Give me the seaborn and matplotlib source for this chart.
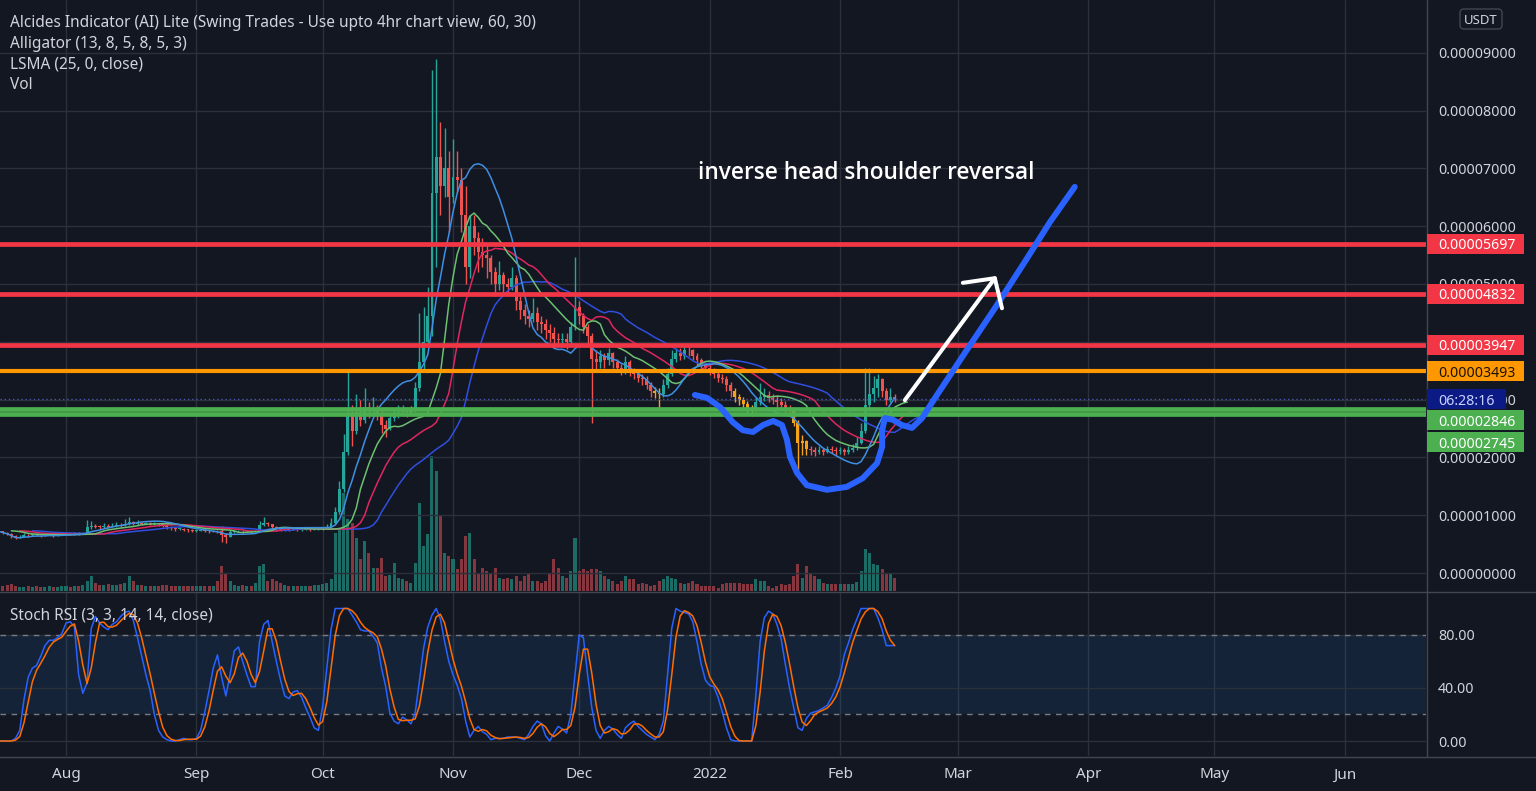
import numpy as np
import pandas as pd
import matplotlib
matplotlib.use("Agg")
import matplotlib.pyplot as plt
import matplotlib.dates as mdates
from matplotlib.patches import Rectangle, FancyBboxPatch
from matplotlib.lines import Line2D
from matplotlib.transforms import IdentityTransform
import seaborn as sns

# ---------------- data (prices in 1e-6 USDT, daily candles) ----------------
start_date = "2021-07-16"
first_open = 7.4
close = [
    7.2, 7.0, 6.8, 6.4, 6.1, 6.3, 6.6, 6.5, 6.7, 6.6, 6.5, 6.6, 6.7, 6.5, 6.6, 6.7,
    6.8, 6.7, 6.9, 6.8, 6.9, 7.9, 8.2, 8.0, 7.9, 8.1, 8.0, 8.1, 8.3, 8.2, 8.4, 8.8,
    8.5, 8.6, 8.5, 8.6, 8.5, 8.5, 8.4, 8.3, 7.9, 7.8, 7.6, 7.7, 7.5, 7.4, 7.3,
    7.3, 7.4, 7.3, 7.2, 7.3, 7.2, 6.6, 6.3, 7.1, 7.2, 7.3, 7.2, 7.3, 7.2, 7.3, 8.3,
    8.6, 8.4, 8.0, 7.6, 7.5, 7.6, 7.5, 7.6, 7.5, 7.5, 7.6, 7.5, 7.6, 7.6,
    7.7, 8.0, 8.6, 10.5, 14.5, 21.0, 27.5, 24.5, 27.8, 26.5, 28.8, 28.0, 28.5, 27.2,
    25.6, 25.0, 26.8, 27.5, 27.9, 28.2, 27.8, 28.0, 32.0, 36.5, 40.0, 44.5, 65.7,
    72.0, 67.0, 70.0, 65.0,
    68.5, 68.0, 62.0, 53.0, 60.0, 58.0, 55.5, 55.0, 54.5, 52.0, 50.0, 51.5, 50.0,
    49.5, 51.0, 47.0, 45.5, 44.5, 44.0, 45.0, 43.5, 43.0, 42.0, 41.5, 40.5, 40.3,
    40.5, 40.0, 42.5, 46.0,
    44.5, 42.5, 41.0, 37.0, 36.5, 37.5, 36.8, 38.0, 36.5, 35.5, 35.0, 36.5, 35.0,
    34.5, 33.8, 33.5, 32.5, 31.5, 31.2, 31.0, 32.5, 34.5, 37.0, 38.0, 37.5, 38.6,
    38.5, 37.5, 36.8, 36.0, 35.5,
    35.0, 34.5, 33.8, 33.5, 32.5, 31.5, 30.5, 30.0, 29.3, 28.5, 28.0, 29.5, 30.5,
    30.8, 30.2, 30.0, 29.5, 29.0, 28.5, 28.0, 26.0, 22.5, 22.8, 21.5, 21.2, 21.0,
    21.3, 21.0, 21.4, 21.3, 21.1,
    21.2, 21.0, 21.3, 21.6, 22.5, 24.5, 29.0, 31.0, 32.0, 33.5, 31.5, 30.0, 30.5, 30.1,
]
high = [
    7.6, 7.3, 7.1, 6.9, 6.5, 6.6, 6.9, 6.8, 6.9, 6.9, 6.8, 6.8, 6.9, 6.8, 6.8, 6.9,
    7.0, 7.0, 7.1, 7.1, 7.1, 9.2, 9.0, 8.5, 8.3, 8.6, 8.4, 8.6, 8.8, 8.7, 9.3, 9.7,
    9.0, 9.2, 8.9, 8.9, 8.8, 8.8, 8.7, 8.6, 8.4, 8.1, 7.9, 8.0, 7.8, 7.7, 7.6,
    7.6, 7.6, 7.6, 7.5, 7.5, 7.5, 8.2, 7.0, 7.4, 7.5, 7.5, 7.5, 7.5, 7.5, 7.5, 9.0,
    9.7, 8.9, 8.5, 8.1, 7.9, 7.8, 7.8, 7.8, 7.7, 7.7, 7.8, 7.7, 7.8, 7.8,
    8.0, 8.4, 9.5, 11.5, 16.0, 24.0, 35.0, 29.0, 31.0, 30.0, 32.0, 29.5, 30.5, 29.0,
    28.0, 26.5, 27.5, 28.5, 29.0, 29.0, 28.8, 28.9, 33.0, 45.0, 46.0, 49.5, 87.0,
    89.0, 78.0, 77.0, 73.0,
    75.0, 73.0, 70.0, 67.0, 62.0, 62.0, 59.0, 58.0, 57.0, 55.0, 53.0, 54.0, 52.0,
    51.0, 53.0, 51.5, 48.0, 46.5, 45.5, 47.5, 46.0, 44.5, 44.0, 43.0, 42.5, 41.5,
    41.5, 41.5, 43.5, 54.7,
    47.0, 45.0, 43.0, 41.5, 38.5, 38.5, 38.0, 39.0, 38.3, 37.0, 36.2, 37.5, 36.8,
    35.5, 35.0, 34.5, 34.0, 33.0, 32.2, 32.0, 33.5, 35.5, 38.5, 39.0, 39.0, 39.3,
    39.3, 38.8, 38.0, 37.2, 36.5,
    36.0, 35.5, 35.0, 34.5, 34.0, 33.0, 32.0, 31.0, 30.5, 29.8, 29.0, 30.5, 32.9,
    32.0, 31.5, 31.0, 30.8, 30.3, 29.8, 29.0, 28.3, 26.5, 23.8, 23.0, 22.0, 21.8,
    21.9, 21.7, 22.0, 21.9, 21.8,
    21.8, 21.7, 21.9, 22.3, 23.5, 26.0, 35.5, 35.5, 34.0, 34.5, 33.8, 32.0, 32.0, 31.0,
]
low = [
    7.0, 6.8, 6.6, 6.1, 5.9, 6.0, 6.2, 6.3, 6.4, 6.4, 6.3, 6.4, 6.5, 6.3, 6.4, 6.5,
    6.5, 6.5, 6.6, 6.6, 6.7, 6.8, 7.7, 7.8, 7.7, 7.8, 7.8, 7.9, 8.0, 8.0, 8.1, 8.3,
    8.3, 8.3, 8.3, 8.4, 8.3, 8.3, 8.2, 8.0, 7.6, 7.5, 7.3, 7.4, 7.2, 7.1, 7.1,
    7.1, 7.2, 7.1, 7.0, 7.1, 7.0, 5.4, 5.2, 6.2, 7.0, 7.1, 7.0, 7.1, 7.0, 7.1, 7.2,
    8.1, 8.1, 7.7, 7.3, 7.2, 7.3, 7.3, 7.4, 7.3, 7.3, 7.4, 7.3, 7.4, 7.4,
    7.5, 7.6, 7.9, 8.5, 10.2, 14.0, 20.5, 22.0, 24.0, 25.5, 26.0, 26.8, 27.2, 26.5,
    24.3, 23.5, 24.8, 26.3, 26.8, 27.2, 27.0, 27.2, 27.8, 31.5, 35.0, 39.5, 41.0,
    53.0, 62.0, 65.0, 59.0,
    64.0, 66.0, 59.0, 50.0, 51.0, 55.0, 52.0, 53.0, 51.0, 50.0, 48.0, 49.0, 48.5,
    48.0, 49.0, 45.5, 44.0, 43.0, 42.5, 43.5, 42.0, 41.5, 40.5, 40.0, 39.0, 39.5,
    39.3, 38.8, 39.5, 42.0,
    43.0, 41.5, 39.5, 26.0, 35.0, 35.5, 35.5, 36.0, 35.5, 34.8, 34.2, 34.5, 34.0,
    33.5, 33.0, 32.5, 31.8, 30.5, 30.3, 28.5, 30.5, 32.0, 34.0, 36.5, 36.8, 37.0,
    37.5, 36.8, 36.0, 35.2, 34.8,
    34.2, 33.8, 33.0, 32.8, 31.5, 30.5, 29.5, 29.0, 28.3, 27.5, 27.2, 27.8, 29.0,
    29.8, 29.5, 29.3, 28.8, 28.3, 27.6, 27.2, 25.5, 17.3, 20.5, 20.5, 20.5, 20.3,
    20.6, 20.4, 20.7, 20.7, 20.5,
    20.6, 20.4, 20.6, 20.9, 21.3, 22.3, 24.3, 28.0, 29.5, 30.5, 30.5, 29.0, 29.5, 29.6,
]
volume = [  # relative volume
    5, 5, 6, 7, 5, 4, 4, 5, 4, 5, 4, 4, 5, 4, 4, 5,
    5, 4, 5, 5, 6, 10, 15, 8, 6, 6, 7, 6, 6, 7, 8, 15, 10, 6, 6, 5, 5, 5, 5, 6, 6,
    5, 5, 5, 5, 5, 5,
    5, 5, 5, 5, 5, 10, 25, 17, 10, 6, 5, 6, 5, 5, 8, 25, 27, 10, 12, 10, 8, 6, 5, 5,
    5, 5, 5, 5, 6, 6,
    7, 8, 12, 58, 62, 98, 72, 68, 53, 32, 50, 38, 23, 23, 33, 15, 16, 28, 13, 12, 10,
    8, 28, 88, 45, 57, 135, 120, 75, 38, 35,
    32, 22, 32, 55, 58, 32, 17, 23, 20, 18, 23, 13, 12, 13, 12, 15, 10, 15, 17, 10,
    10, 8, 10, 18, 32, 23, 15, 13, 20, 53,
    20, 22, 20, 22, 22, 20, 15, 12, 10, 7, 10, 15, 12, 12, 7, 8, 7, 5, 6, 10, 12, 15,
    13, 12, 8, 7, 8, 10, 7, 5, 5,
    5, 5, 3, 7, 8, 8, 8, 8, 7, 7, 7, 12, 10, 10, 5, 3, 5, 7, 6, 7, 15, 27, 13, 25,
    17, 15, 12, 8, 7, 7, 7,
    7, 7, 7, 7, 9, 20, 42, 38, 27, 26, 22, 18, 17, 13,
]
stoch_k = [
    0, 0, 0, 0, 2, 8, 31, 48, 55, 57, 64, 72, 76, 76, 78, 81,
    89, 90, 86, 50, 36, 44, 85, 94, 89, 86, 84, 88, 90, 94, 97, 98, 91, 78, 64, 50,
    38, 20, 8, 3, 1, 0, 0, 1, 2, 1, 1,
    2, 8, 22, 38, 55, 65, 48, 34, 50, 68, 71, 60, 50, 41, 41, 75, 88, 91, 75, 60,
    46, 34, 32, 37, 38, 33, 25, 18, 10, 8,
    26, 55, 84, 100, 100, 100, 100, 95, 90, 84, 83, 83, 79, 74, 55, 41, 21, 15, 13,
    18, 16, 13, 21, 45, 70, 86, 95, 100, 92, 75, 60,
    50, 42, 32, 15, 3, 8, 11, 7, 5, 1, 2, 2, 2, 3, 3, 3, 2, 1, 5, 11, 15, 13, 4, 0,
    6, 11, 9, 6, 20, 50,
    80, 78, 50, 25, 8, 2, 8, 11, 9, 5, 2, 10, 13, 15, 11, 8, 5, 3, 1, 5, 15, 50, 85,
    100, 98, 97, 96, 90, 75, 58, 46,
    42, 41, 33, 22, 10, 1, 0, 0, 0, 0, 0, 35, 75, 93, 98, 96, 88, 77, 58, 40, 25,
    10, 8, 17, 21, 22, 23, 25, 27, 33, 40,
    49, 65, 74, 84, 92, 100, 100, 100, 100, 93, 84, 72, 72, 72,
]
alert_days = ["2021-10-22", "2021-12-19", "2021-12-20", "2022-01-07", "2022-01-08",
              "2022-01-09", "2022-01-10", "2022-01-11", "2022-01-21", "2022-01-22",
              "2022-01-23", "2022-01-24"]

level_red = [56.97, 48.32, 39.47]
level_orange = [34.93]
level_green = [28.46, 27.45]
price_ticks = [0, 10, 20, 30, 40, 50, 60, 70, 80, 90]
hidden_ticks = [40]  # fully covered by a level label in the reference
stoch_ticks = [0, 40, 80]
stoch_band = [20, 80]
month_starts = ["2021-08-01", "2021-09-01", "2021-10-01", "2021-11-01", "2021-12-01",
                "2022-01-01", "2022-02-01", "2022-03-01", "2022-04-01", "2022-05-01",
                "2022-06-01"]
month_labels = ["Aug", "Sep", "Oct", "Nov", "Dec", "2022", "Feb", "Mar", "Apr", "May", "Jun"]
countdown = "06:28:16"
legend_lines = ["Alcides Indicator (AI) Lite (Swing Trades - Use upto 4hr chart view, 60, 30)",
                "Alligator (13, 8, 5, 8, 5, 3)", "LSMA (25, 0, close)", "Vol"]
stoch_title = "Stoch RSI (3, 3, 14, 14, close)"
note_text = "inverse head shoulder reversal"
note_anchor = (166.2, 69.2)  # (days after start, price)

# hand-drawn annotation (days after start, price)
curve_day = [165.5, 168.4, 171.5, 174.5, 176.9, 179.3, 181.7, 184.1, 186.2, 187.4, 188.1,
             189.8, 192.1, 196.9, 201.6, 205.4, 208.8, 210.0, 210.0, 210.7, 212.6, 214.7,
             217.1, 219.5, 222.6, 229.7, 236.8, 243.9, 249.9, 255.8]
curve_price = [30.8, 30.3, 28.7, 26.1, 24.7, 24.4, 25.6, 26.3, 25.6, 23.0, 20.1, 17.3,
               15.2, 14.4, 14.9, 16.4, 19.0, 21.8, 24.7, 26.8, 26.5, 25.6, 25.1, 26.8,
               30.3, 38.1, 45.8, 53.8, 60.7, 66.8]
arrow_day = [215.4, 236.8]
arrow_price = [29.9, 51.0]
head_day = [229.2, 236.8, 238.5]
head_price = [50.2, 51.0, 45.8]

# ---------------- style ----------------
BG = "#131722"
GRID = "#2c303b"
TXT = "#d1d4dc"
UP, DOWN, ALERT = "#26a69a", "#ef5350", "#f7a21b"
W, H = 1536, 791

sns.set_theme(style="dark", rc={"axes.facecolor": BG, "figure.facecolor": BG,
                                "patch.edgecolor": "none", "patch.linewidth": 0})
plt.rcParams["font.family"] = ["Noto Sans", "DejaVu Sans"]

close = np.array(close, float)
high = np.array(high, float)
low = np.array(low, float)
volume = np.array(volume, float)
n = len(close)
d0 = mdates.date2num(pd.Timestamp(start_date))
x = d0 + np.arange(n)
opn = np.concatenate([[first_open], close[:-1]])
up = close >= opn
alert = np.isin(pd.date_range(start_date, periods=n).strftime("%Y-%m-%d"), alert_days)

# indicators from the price data
hl2 = (high + low) / 2


def smma(src, length):
    out = np.empty_like(src)
    out[0] = src[0]
    for t in range(1, len(src)):
        out[t] = (out[t - 1] * (length - 1) + src[t]) / length
    return out


def lsma(src, length):
    out = np.empty_like(src)
    for t in range(len(src)):
        w = src[max(0, t - length + 1):t + 1]
        if len(w) < 2:
            out[t] = w[-1]
            continue
        b, a = np.polyfit(np.arange(len(w)), w, 1)
        out[t] = a + b * (len(w) - 1)
    return out


jaw = smma(hl2, 13)
teeth = smma(hl2, 8)
lips = smma(hl2, 5)
ls = lsma(close, 25)
stoch_d = pd.Series(stoch_k, dtype=float).rolling(3, min_periods=1).mean().values

fig = plt.figure(figsize=(W / 100, H / 100), dpi=100)
fig.patch.set_facecolor(BG)
rect_main = [0, 1 - 591 / H, 1426 / W, 591 / H]
axv = fig.add_axes(rect_main)
ax = fig.add_axes(rect_main, sharex=axv)
axs = fig.add_axes([0, 1 - 756 / H, 1426 / W, 164 / H])
ax.patch.set_alpha(0)
axv.set_facecolor(BG)
axs.set_facecolor(BG)
for a in (axv, ax, axs):
    for s in a.spines.values():
        s.set_visible(False)
    a.grid(False)

xlim = (d0 + 0.309, d0 + 339.3)
ax.set_xlim(*xlim)
axs.set_xlim(*xlim)
ax.set_ylim(-3.11, 99.13)
axv.set_ylim(0, 591)
axs.set_ylim(-11.32, 112.45)

# grids
months = [mdates.date2num(pd.Timestamp(m)) for m in month_starts]
for m in months:
    axv.axvline(m, color=GRID, lw=1, zorder=0)
    axs.axvline(m, color=GRID, lw=1, zorder=0)
for p in price_ticks:
    ax.axhline(p, color=GRID, lw=1, zorder=0)

# volume
axv.bar(x, volume, width=0.72, color=np.where(up, "#1d6b65", "#86363e"),
        edgecolor="none", linewidth=0, zorder=1)

# candles
ccol = np.where(alert, ALERT, np.where(up, UP, DOWN))
ax.vlines(x, low, high, colors=ccol, lw=1, zorder=3)
body = np.maximum(np.abs(close - opn), 0.15)
ax.bar(x, body, bottom=np.minimum(close, opn), width=0.7, color=ccol,
       edgecolor="none", linewidth=0, zorder=4)

# indicator lines
line_kw = dict(estimator=None, legend=False, linewidth=1.1, zorder=5)
sns.lineplot(x=x + 8, y=jaw, ax=ax, color="#2f4fe0", **line_kw)
sns.lineplot(x=x + 5, y=teeth, ax=ax, color="#e0265e", **line_kw)
sns.lineplot(x=x + 3, y=lips, ax=ax, color="#6cc070", **line_kw)
sns.lineplot(x=x, y=ls, ax=ax, color="#3f8fe3", **line_kw)

# horizontal levels
for v in level_red:
    ax.axhline(v, color="#f23645", lw=3.4, zorder=6)
for v in level_orange:
    ax.axhline(v, color="#ff9800", lw=3.0, zorder=6)
for v in level_green:
    ax.axhline(v, color="#4caf50", lw=3.4, zorder=6)
ax.axhline(close[-1], color="#4a55a8", lw=1, ls=(0, (1, 2)), zorder=6)

# hand drawings
ax.plot(d0 + np.array(curve_day), curve_price, color="#2962ff", lw=4.3,
        solid_capstyle="round", solid_joinstyle="round", zorder=8)
ax.plot(d0 + np.array(arrow_day), arrow_price, color="white", lw=2.9,
        solid_capstyle="round", zorder=8)
ax.plot(d0 + np.array(head_day), head_price, color="white", lw=2.9,
        solid_capstyle="round", solid_joinstyle="round", zorder=8)
ax.text(d0 + note_anchor[0], note_anchor[1], note_text, color="white", fontsize=16.3,
        family=["Open Sans", "Noto Sans", "DejaVu Sans"], fontweight="semibold",
        va="center", ha="left", zorder=9)

# stoch pane
axs.axhspan(stoch_band[0], stoch_band[1], color="#2196f3", alpha=0.10, lw=0, zorder=0)
for v in stoch_ticks:
    axs.axhline(v, color=GRID, lw=1, zorder=0)
for v in stoch_band:
    axs.axhline(v, color="#787b86", lw=1, ls=(0, (4, 4)), zorder=1)
sns.lineplot(x=x, y=stoch_k, ax=axs, color="#2962ff", estimator=None, legend=False,
             linewidth=1.1, zorder=3)
sns.lineplot(x=x, y=stoch_d, ax=axs, color="#ff6d00", estimator=None, legend=False,
             linewidth=1.1, zorder=3)

for a in (axv, ax, axs):
    a.set_xticks([])
    a.set_yticks([])
    a.set_xlabel("")
    a.set_ylabel("")

# ---------------- right price scale & labels (pixel layout) ----------------
IT = IdentityTransform()


def ydisp(axis, v):
    return axis.transData.transform((xlim[0], v))[1]


def xdisp(axis, v):
    return axis.transData.transform((v, 0))[0]


for p in price_ticks:
    if p in hidden_ticks:
        continue
    fig.text(1438, ydisp(ax, p), f"{p * 1e-6:.8f}", transform=IT, color=TXT, fontsize=10.2,
             va="center_baseline", ha="left", zorder=10)
for v in stoch_ticks:
    fig.text(1438, ydisp(axs, v), f"{v:.2f}", transform=IT, color=TXT, fontsize=10.2,
             va="center_baseline", ha="left", zorder=10)


def price_box(v, text, fc, tc, shift=0.0, width=97):
    yc = ydisp(ax, v) + shift
    fig.add_artist(Rectangle((1427, yc - 10), width, 20, transform=IT, fc=fc, ec="none",
                             zorder=20))
    fig.text(1438, yc, text, transform=IT, color=tc, fontsize=10.2, va="center_baseline",
             ha="left", zorder=21)


for v in level_red:
    price_box(v, f"{v * 1e-6:.8f}", "#f23645", "white")
price_box(level_orange[0], f"{level_orange[0] * 1e-6:.8f}", "#ff9800", "#1a1300")
price_box(close[-1], countdown, "#0c1a86", "#c9d3ff", width=79)
price_box(level_green[0], f"{level_green[0] * 1e-6:.8f}", "#4caf50", "white", shift=-11.5)
price_box(level_green[1], f"{level_green[1] * 1e-6:.8f}", "#4caf50", "white", shift=-27.7)

# USDT box
fig.add_artist(FancyBboxPatch((1460, H - 29), 42, 20, boxstyle="round,pad=0,rounding_size=4",
                              transform=IT, fc="none", ec="#434651", lw=1, zorder=10))
fig.text(1481, H - 19, "USDT", transform=IT, color=TXT, fontsize=9.5, ha="center",
         va="center_baseline", zorder=11)

# separators
fig.add_artist(Line2D([0, W], [H - 591.5, H - 591.5], transform=IT, color="#434651", lw=1, zorder=12))
fig.add_artist(Line2D([0, W], [H - 756.5, H - 756.5], transform=IT, color="#434651", lw=1, zorder=12))
fig.add_artist(Line2D([1426.5, 1426.5], [H - 756.5, H], transform=IT, color="#434651", lw=1, zorder=12))

# date labels
for m, lab in zip(months, month_labels):
    fig.text(xdisp(axs, m), H - 773, lab, transform=IT, color=TXT, fontsize=11,
             ha="center", va="center_baseline",
             fontweight="bold" if lab == "2022" else "normal", zorder=10)

# legends
for k, s in enumerate(legend_lines):
    fig.text(10, H - (21 + 20.7 * k), s, transform=IT, color=TXT, fontsize=11.1,
             ha="left", va="center_baseline", zorder=10)
fig.text(10, H - 613, stoch_title, transform=IT, color=TXT, fontsize=11.1, ha="left",
         va="center_baseline", zorder=10)

fig.savefig("out.png", dpi=100, facecolor=BG)
